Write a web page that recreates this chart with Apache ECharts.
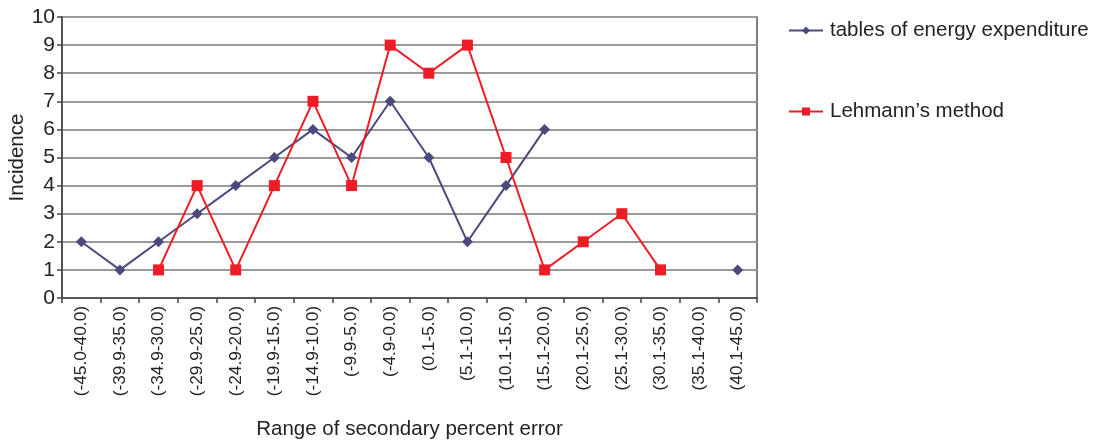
<!DOCTYPE html>
<html><head><meta charset="utf-8">
<script src="https://cdn.jsdelivr.net/npm/echarts@6/dist/echarts.min.js"></script>
<style>html,body{margin:0;padding:0;background:#fff}#c{width:1099px;height:441px}</style>
</head><body><div id="c"></div>
<script>
const categories = ["(-45.0-40.0)","(-39.9-35.0)","(-34.9-30.0)","(-29.9-25.0)","(-24.9-20.0)","(-19.9-15.0)","(-14.9-10.0)","(-9.9-5.0)","(-4.9-0.0)","(0.1-5.0)","(5.1-10.0)","(10.1-15.0)","(15.1-20.0)","(20.1-25.0)","(25.1-30.0)","(30.1-35.0)","(35.1-40.0)","(40.1-45.0)"];
const tablesValues = [2,1,2,3,4,5,6,5,7,5,2,4,6,null,null,null,null,1];
const lehmannValues = [null,null,1,4,1,4,7,4,9,8,9,5,1,2,3,1,null,null];
const yTicks = [0,1,2,3,4,5,6,7,8,9,10];

const font = "Liberation Sans, Arial, sans-serif";
const chart = echarts.init(document.getElementById('c'));
chart.setOption({
  animation: false,
  grid: {left: 62, right: 342, top: 17, bottom: 143, show: true, borderColor: '#555', borderWidth: 1.5, backgroundColor: 'transparent', outerBoundsMode: 'none', containLabel: false},
  legend: {
    orient: 'vertical', left: 783, top: 15, itemGap: 60, itemWidth: 34, itemHeight: 10,
    textStyle: {fontFamily: font, fontSize: 20.5, color: '#222', padding: [0,0,0,2]},
    data: ['tables of energy expenditure', "Lehmann\u2019s method"]
  },
  xAxis: {
    type: 'category', data: categories, boundaryGap: true,
    name: 'Range of secondary percent error', nameLocation: 'middle', nameGap: 121,
    nameMoveOverlap: false,
    nameTextStyle: {fontFamily: font, fontSize: 20.5, color: '#222'},
    axisLine: {lineStyle: {color: '#444', width: 1.5}},
    axisTick: {show: true, alignWithLabel: false, length: 5, lineStyle: {color: '#444', width: 1.5}},
    axisLabel: {rotate: 90, interval: 0, fontFamily: font, fontSize: 17.3, color: '#222', margin: 8},
    splitLine: {show: false}
  },
  yAxis: {
    type: 'value', min: 0, max: 10, interval: 1,
    name: 'Incidence', nameLocation: 'middle', nameGap: 34,
    nameMoveOverlap: false,
    nameTextStyle: {fontFamily: font, fontSize: 20.5, color: '#222'},
    axisLine: {show: true, lineStyle: {color: '#444', width: 1.5}},
    axisTick: {show: true, length: 5, lineStyle: {color: '#444', width: 1.5}},
    axisLabel: {fontFamily: font, fontSize: 21, color: '#222', margin: 7,
      formatter: v => yTicks.includes(v) ? String(v) : ''},
    splitLine: {show: true, lineStyle: {color: '#9a9a9a', width: 2}}
  },
  series: [
    {
      name: 'tables of energy expenditure', type: 'line', data: tablesValues,
      symbol: 'diamond', symbolSize: 11, showSymbol: true, connectNulls: false,
      itemStyle: {color: '#4a4a7e'}, lineStyle: {color: '#4a4a7e', width: 2}
    },
    {
      name: "Lehmann\u2019s method", type: 'line', data: lehmannValues,
      symbol: 'rect', symbolSize: 11, showSymbol: true, connectNulls: false,
      itemStyle: {color: '#ee1c24'}, lineStyle: {color: '#ee1c24', width: 2}
    }
  ]
});
</script></body></html>
